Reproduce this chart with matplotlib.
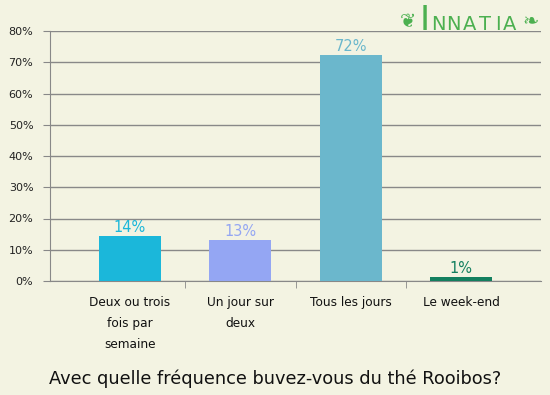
import matplotlib.pyplot as plt
import numpy as np

categories = ["Deux ou trois\nfois par\nsemaine", "Un jour sur\ndeux", "Tous les jours", "Le week-end"]
values = [14.4, 13.1, 72.2, 1.4]
labels = ["14%", "13%", "72%", "1%"]
colors = ["#1bb7da", "#94a6f3", "#6bb7cc", "#137f5f"]
yticks = [0, 10, 20, 30, 40, 50, 60, 70, 80]

bg = "#f3f3e2"
fig = plt.figure(figsize=(5.5, 3.95), dpi=100, facecolor=bg)
ax = fig.add_axes([50 / 550, 1 - 281 / 395, 491 / 550, 250 / 395], facecolor=bg)

x = np.arange(len(categories))
ax.bar(x, values, width=0.56, color=colors, zorder=3)
for xi, v, lab, c in zip(x, values, labels, colors):
    ax.text(xi, v + 0.3, lab, ha="center", va="bottom", color=c, fontsize=10.5, zorder=4)

ax.set_xlim(-0.725, 3.725)
ax.set_ylim(0, 80)
ax.set_yticks(yticks)
ax.set_yticklabels([f"{t}%" for t in yticks], fontsize=8, color="#222222")
ax.yaxis.grid(True, color="#888888", linewidth=1, zorder=1)
ax.tick_params(axis="y", length=5, color="#888888", pad=7)

# category boundaries as minor ticks
ax.set_xticks(x)
ax.set_xticklabels(categories, fontsize=8.75, linespacing=1.8, va="top", color="#111111")
ax.tick_params(axis="x", which="major", length=0, pad=11)
ax.set_xticks([0.5, 1.5, 2.5], minor=True)
ax.tick_params(axis="x", which="minor", length=5, color="#888888")

for s in ["top", "right"]:
    ax.spines[s].set_visible(False)
ax.spines["left"].set_color("#888888")
ax.spines["bottom"].set_color("#888888")

fig.text(275 / 550, 1 - 379 / 395, "Avec quelle fréquence buvez-vous du thé Rooibos?",
         ha="center", va="center", fontsize=12.75, color="#111111")

# logo
green = "#4cb050"
fig.text(424.5 / 550, 1 - 30 / 395, "I", ha="center", va="baseline", fontsize=24.5, color=green)
for letter, cx in zip("NNATIA", [438.5, 453.5, 469.5, 485, 497.5, 510]):
    fig.text(cx / 550, 1 - 30 / 395, letter, ha="center", va="baseline", fontsize=14, color=green)
fig.text(407.5 / 550, 1 - 22 / 395, "❦", ha="center", va="center", fontsize=14, color=green)
fig.text(531 / 550, 1 - 22 / 395, "❧", ha="center", va="center", fontsize=14, color=green)

plt.savefig("out.png", dpi=100, facecolor=bg)
